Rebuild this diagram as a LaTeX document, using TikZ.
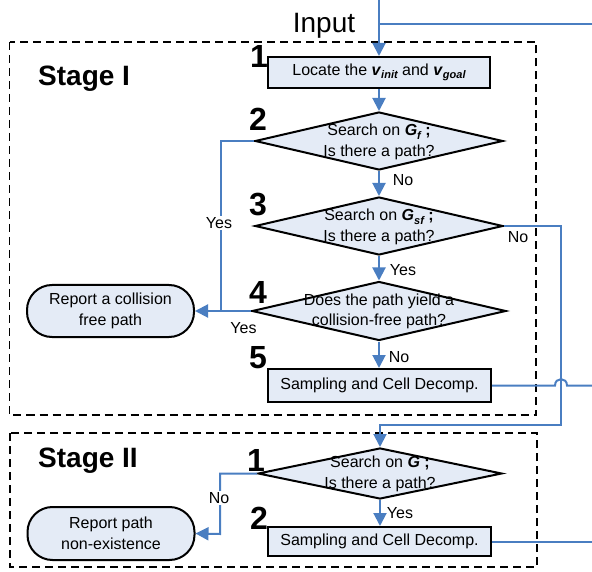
\documentclass[tikz,border=0pt]{standalone}
\usepackage{fontspec}
\setmainfont{Liberation Sans}
\usetikzlibrary{arrows.meta,shapes.geometric}
\definecolor{lbfill}{RGB}{228,235,246}
\definecolor{lnblue}{RGB}{74,126,193}
\newcommand{\bvsub}[2]{\textbf{\textit{#1}}\raisebox{-3.5pt}{\fontsize{11}{11}\selectfont\bfseries\itshape #2}}
\begin{document}
\begin{tikzpicture}[x=1pt,y=-1pt,
 txt/.style={font=\fontsize{16}{20.5}\selectfont, align=center},
 procbox/.style={draw, line width=2pt, fill=lbfill, rectangle, minimum width=222pt, minimum height=31pt, inner sep=0pt, txt},
 decide/.style={draw, line width=2pt, fill=lbfill, diamond, inner sep=0pt},
 term/.style={draw, line width=2pt, fill=lbfill, rectangle, rounded corners=25pt, minimum width=167pt, minimum height=52pt, inner sep=0pt, txt},
 bl/.style={draw=lnblue, line width=2pt},
 arr/.style={bl, -{Triangle[length=13pt,width=13pt]}},
 lab/.style={font=\fontsize{16}{16}\selectfont, inner sep=1pt},
 num/.style={font=\fontsize{32}{32}\selectfont\bfseries, inner sep=0pt},
 stage/.style={font=\fontsize{28}{28}\selectfont\bfseries, anchor=base west, inner sep=0pt},
 dbox/.style={draw, line width=1.5pt, dash pattern=on 8pt off 5pt},
]
\useasboundingbox (0,0) rectangle (592,572);
% stage frames
\draw[dbox] (9.5,42) rectangle (536,415);
\draw[dbox] (10,433) rectangle (537,567);
\node[stage] (st1) at (38,86) {Stage I};
\node[stage] (st2) at (38,467) {Stage II};
\node[font=\fontsize{28}{28}\selectfont, anchor=base, inner sep=0pt] (input) at (324,33) {Input};

% nodes
\node[procbox] (b1) at (379,72.5) {Locate the \bvsub{v}{init} and \bvsub{v}{goal}};
\node[decide, minimum width=248pt, minimum height=58pt] (d2) at (379,141) {};
\node[txt] (t2) at (379,142) {Search on \bvsub{G}{f} \textbf{;}\\Is there a path?};
\node[decide, minimum width=248pt, minimum height=58pt] (d3) at (379,226) {};
\node[txt] (t3) at (379,227) {Search on \bvsub{G}{sf} \textbf{;}\\Is there a path?};
\node[decide, minimum width=254pt, minimum height=59pt] (d4) at (379,311) {};
\node[txt] (t4) at (379,311.5) {Does the path yield a\\collision-free path?};
\node[procbox, minimum width=223pt, minimum height=33pt] (b5) at (379.5,385.5) {Sampling and Cell Decomp.};
\node[term] (rep1) at (110.5,311) {Report a collision\\free path};
\node[decide, minimum width=244pt, minimum height=51pt] (s2d) at (380,473.5) {};
\node[txt] (ts2) at (380,474) {Search on \bvsub{G}{} \textbf{;}\\Is there a path?};
\node[procbox, minimum width=223pt, minimum height=29pt] (s2b) at (379.5,541.5) {Sampling and Cell Decomp.};
\node[term, minimum height=53pt] (rep2) at (111,533.5) {Report path\\non-existence};

% step numbers
\node[num] (n1) at (259,56) {1};
\node[num] (n2) at (258,119.5) {2};
\node[num] (n3) at (258,205) {3};
\node[num] (n4) at (258,292) {4};
\node[num] (n5) at (258,357.5) {5};
\node[num] (m1) at (256,460) {1};
\node[num] (m2) at (259,518.5) {2};

% connectors
\coordinate (in0) at (379,0);
\coordinate (inj) at (379,24);
\coordinate (inr) at (592,24);
\draw[arr] (in0) -- (b1.north);
\draw[bl] (inj) -- (inr);
\draw[arr] (b1.south) -- (d2.north);
\draw[arr] (d2.south) -- (d3.north);
\draw[arr] (d3.south) -- (d4.north);
\draw[arr] (d4.south) -- (d4.south |- b5.north);
\coordinate (j1) at (221,311);
\draw[bl] (d2.west) -| (j1);
\draw[arr] (d4.west) -- (rep1.east);
\coordinate (r3) at (561,425);
\draw[arr] (d3.east) -| (r3) -| (s2d.north);
\draw[arr] (s2d.south) -- (s2d.south |- s2b.north);
\coordinate (j2) at (220,534);
\draw[arr] (s2d.west) -| (j2) -- (rep2.east);
\coordinate (hopa) at (555,385.5);
\coordinate (hopb) at (567,385.5);
\coordinate (e5) at (592,385.5);
\draw[bl] (b5.east) -- (hopa) .. controls (555,377) and (567,377) .. (hopb) -- (e5);
\coordinate (e6) at (592,541.5);
\draw[bl] (s2b.east) -- (e6);

% labels
\node[lab] (lno2) at (403,180) {No};
\node[lab] (lno3) at (518,237) {No};
\node[lab, fill=white] (lyes2) at (219,223) {Yes};
\node[lab] (lyes3) at (403,270) {Yes};
\node[lab] (lyes4) at (243.5,328) {Yes};
\node[lab] (lno4) at (399,357) {No};
\node[lab, fill=white] (lno5) at (219,498) {No};
\node[lab] (lyes5) at (400,513) {Yes};
\end{tikzpicture}
\end{document}
